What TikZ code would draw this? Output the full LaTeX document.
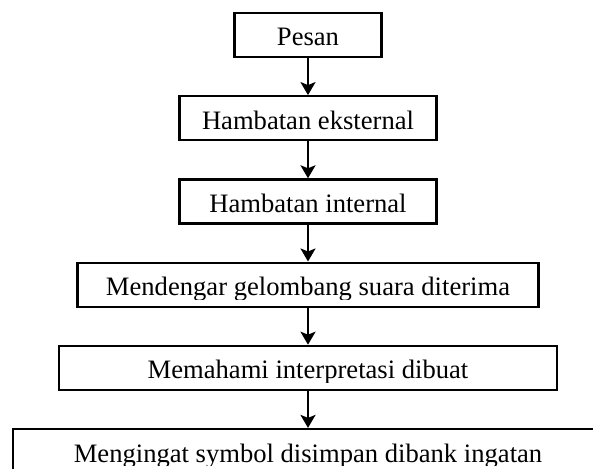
\documentclass[tikz,border=0pt]{standalone}
\usepackage{fontspec}
\setmainfont{Liberation Serif}
\usetikzlibrary{positioning,arrows.meta}

\tikzset{
  flowbox/.style 2 args={draw, line width=2.2pt, minimum width=#1, minimum height=44pt, inner sep=0pt,
    path picture={
      \clip ([yshift=7.5pt]path picture bounding box.south west) rectangle (path picture bounding box.north east);
      \node[anchor=base, inner sep=0pt, font=\fontsize{26.6pt}{30pt}\selectfont]
        at ([yshift=11pt]path picture bounding box.south) {#2};
    }},
  flowarrow/.style={-{Stealth[length=13pt,width=15pt,inset=3pt]}, line width=2.2pt},
}

\begin{document}
\begin{tikzpicture}
    \useasboundingbox (0pt,0pt) rectangle (593pt,-468pt);
    \node[flowbox={147pt}{Pesan}] (pesan) at (308pt,-35pt) {};
    \node[flowbox={257pt}{Hambatan eksternal}, below=37pt of pesan] (eksternal) {};
    \node[flowbox={257pt}{Hambatan internal}, below=37pt of eksternal] (internal) {};
    \node[flowbox={461pt}{Mendengar gelombang suara diterima}, below=37pt of internal] (mendengar) {};
    \node[flowbox={498pt}{Memahami interpretasi dibuat}, below=37pt of mendengar] (memahami) {};
    \node[flowbox={590pt}{Mengingat symbol disimpan dibank ingatan}, below=37pt of memahami] (mengingat) {};
    \draw[flowarrow] (pesan.south) -- (eksternal.north);
    \draw[flowarrow] (eksternal.south) -- (internal.north);
    \draw[flowarrow] (internal.south) -- (mendengar.north);
    \draw[flowarrow] (mendengar.south) -- (memahami.north);
    \draw[flowarrow] (memahami.south) -- (mengingat.north);
\end{tikzpicture}
\end{document}
